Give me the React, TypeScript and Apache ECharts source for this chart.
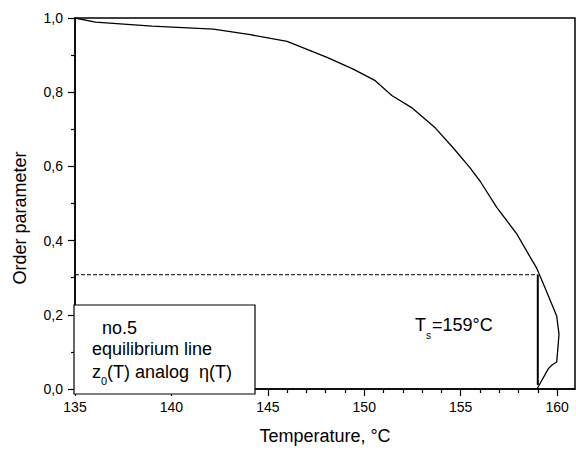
import React, { useEffect, useRef } from 'react';
import * as echarts from 'echarts';

// Equilibrium line no.5: order parameter vs temperature
const temperature = [135, 136.06, 139, 142.18, 144.09, 146.0, 148.07, 149.43, 150.57, 151.43, 152.5, 153.68, 154.63, 155.49, 156.01, 156.88, 157.91, 158.6, 158.95, 159.38, 159.98, 160.1, 160.04, 159.98, 159.72, 159.55, 158.98];
const orderParameter = [1.0, 0.989, 0.978, 0.97, 0.955, 0.937, 0.894, 0.862, 0.831, 0.791, 0.757, 0.704, 0.649, 0.596, 0.56, 0.489, 0.418, 0.356, 0.325, 0.272, 0.197, 0.148, 0.108, 0.073, 0.064, 0.055, 0.002];

// Ts marker
const tsTemperature = 159;
const tsOrder = 0.308;
const tsBottom = 0.011;

// axis ticks
const xMajorTicks = [135, 140, 145, 150, 155, 160];
const xMinorTicks = [136, 137, 138, 139, 141, 142, 143, 144, 146, 147, 148, 149, 151, 152, 153, 154, 156, 157, 158, 159];
const xMin = 135;
const xMax = 160.93;
const yTickLabels = ['0,0', '0,2', '0,4', '0,6', '0,8', '1,0'];

const FONT = 'Liberation Sans, Arial, Helvetica, sans-serif';

export default function App() {
  const ref = useRef<HTMLDivElement>(null);
  useEffect(() => {
    if (!ref.current) return;
    const chart = echarts.init(ref.current, null, { renderer: 'svg' });
    const curve = temperature.map((t, i) => [t, orderParameter[i]]);
    const textStyle = { fill: '#000', fontFamily: FONT };
    chart.setOption({
      animation: false,
      backgroundColor: '#fff',
      grid: {
        left: 75,
        top: 18,
        width: 500,
        height: 376,
        show: true,
        borderColor: '#000',
        borderWidth: 1.5,
        backgroundColor: 'transparent',
      },
      xAxis: [
        {
          type: 'value',
          min: xMin,
          max: xMax,
          interval: 5,
          position: 'bottom',
          name: 'Temperature, °C',
          nameLocation: 'middle',
          nameGap: 38,
          nameTextStyle: { color: '#000', fontSize: 18, fontFamily: FONT },
          axisLine: { show: true, onZero: false, lineStyle: { color: '#000', width: 1.5 } },
          axisTick: { show: true, inside: false, length: 7, customValues: xMajorTicks, lineStyle: { color: '#000', width: 1.2 } },
          axisLabel: { color: '#000', fontSize: 14, fontFamily: FONT, margin: 11, customValues: xMajorTicks },
          splitLine: { show: false },
        },
        {
          type: 'value',
          min: xMin,
          max: xMax,
          interval: 5,
          position: 'bottom',
          axisLine: { show: false },
          axisTick: { show: true, inside: false, length: 4, customValues: xMinorTicks, lineStyle: { color: '#000', width: 1.2 } },
          axisLabel: { show: false },
          splitLine: { show: false },
        },
      ],
      yAxis: {
        type: 'value',
        min: 0,
        max: 1,
        interval: 0.2,
        axisLine: { show: true, onZero: false, lineStyle: { color: '#000', width: 1.5 } },
        axisTick: { show: true, inside: false, length: 7, lineStyle: { color: '#000', width: 1.2 } },
        minorTick: { show: true, splitNumber: 2, length: 4, lineStyle: { color: '#000', width: 1.2 } },
        axisLabel: {
          color: '#000',
          fontSize: 14,
          fontFamily: FONT,
          margin: 12,
          formatter: (v: number) => yTickLabels[Math.round(v / 0.2)] ?? '',
        },
        splitLine: { show: false },
      },
      series: [
        {
          type: 'line',
          xAxisIndex: 0,
          data: curve,
          showSymbol: false,
          symbol: 'none',
          smooth: false,
          lineStyle: { color: '#000', width: 1.3 },
          z: 3,
        },
        {
          type: 'line',
          xAxisIndex: 0,
          data: [[xMin, tsOrder], [tsTemperature, tsOrder]],
          symbol: 'none',
          lineStyle: { color: '#000', width: 1, type: [4, 2] },
          z: 2,
        },
        {
          type: 'line',
          xAxisIndex: 0,
          data: [[tsTemperature, tsBottom], [tsTemperature, tsOrder]],
          symbol: 'none',
          lineStyle: { color: '#000', width: 2 },
          z: 2,
        },
      ],
      graphic: [
        {
          type: 'text',
          x: 20,
          y: 218,
          rotation: Math.PI / 2,
          style: { ...textStyle, text: 'Order parameter', fontSize: 18, align: 'center', verticalAlign: 'middle' },
        },
        {
          type: 'rect',
          shape: { x: 74, y: 305, width: 181, height: 89 },
          style: { fill: '#fff', stroke: '#000', lineWidth: 1.2 },
          z: 10,
        },
        { type: 'text', x: 102, y: 328, z: 11, style: { ...textStyle, text: 'no.5', fontSize: 18, verticalAlign: 'middle' } },
        { type: 'text', x: 92, y: 349, z: 11, style: { ...textStyle, text: 'equilibrium line', fontSize: 18, verticalAlign: 'middle' } },
        { type: 'text', x: 92, y: 372, z: 11, style: { ...textStyle, text: 'z', fontSize: 18, verticalAlign: 'middle' } },
        { type: 'text', x: 101, y: 381, z: 11, style: { ...textStyle, text: '0', fontSize: 11, verticalAlign: 'middle' } },
        { type: 'text', x: 107, y: 372, z: 11, style: { ...textStyle, text: '(T) analog  η(T)', fontSize: 18, verticalAlign: 'middle' } },
        { type: 'text', x: 415, y: 325, z: 11, style: { ...textStyle, text: 'T', fontSize: 18, verticalAlign: 'middle' } },
        { type: 'text', x: 426, y: 335, z: 11, style: { ...textStyle, text: 's', fontSize: 10, verticalAlign: 'middle' } },
        { type: 'text', x: 432, y: 325, z: 11, style: { ...textStyle, text: '=159°C', fontSize: 18, verticalAlign: 'middle' } },
      ],
    });
    return () => chart.dispose();
  }, []);
  return (
    <div
      ref={ref}
      style={{ position: 'fixed', left: 0, top: 0, width: 576, height: 450, background: '#fff' }}
    />
  );
}
